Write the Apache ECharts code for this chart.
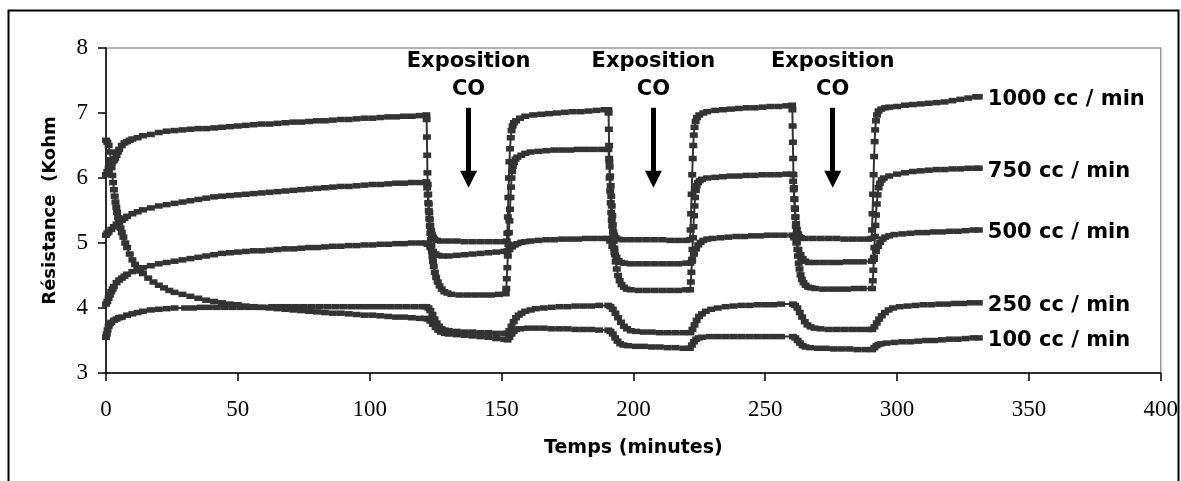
<!DOCTYPE html>
<html>
<head>
<meta charset="utf-8">
<script src="https://cdn.jsdelivr.net/npm/echarts@6/dist/echarts.min.js"></script>
<style>html,body{margin:0;padding:0;background:#fff;}#c{width:1181px;height:481px;}</style>
</head>
<body>
<div id="c"></div>
<script>
// ---- data: [time (minutes), resistance (kOhm)] ----
var seriesNames = ['1000 cc / min', '750 cc / min', '500 cc / min', '250 cc / min', '100 cc / min'];

var s1000 = [[0,6.05],[0.5,6.1],[1,6.15],[1.5,6.19],[2,6.22],[2.5,6.25],[3,6.27],[3.5,6.3],[4,6.35],[4.5,6.4],[5,6.44],[6,6.5],[7,6.54],[8,6.56],[9,6.58],[10,6.6],[12,6.62],[14,6.65],[17,6.67],[20,6.7],[23,6.72],[26,6.73],[29,6.74],[32,6.75],[35,6.76],[38,6.76],[41,6.77],[44,6.78],[47,6.79],[50,6.8],[53,6.81],[56,6.82],[59,6.83],[62,6.83],[65,6.84],[68,6.85],[71,6.86],[74,6.86],[77,6.87],[80,6.88],[83,6.88],[86,6.89],[89,6.9],[92,6.9],[95,6.91],[98,6.92],[101,6.92],[104,6.93],[107,6.94],[110,6.94],[113,6.95],[116,6.95],[119,6.96],[121.5,6.97],
[121.6,6.9],[121.7,6.63],[121.8,6.35],[121.9,6.08],[122,5.9],[122.2,5.75],[122.4,5.6],[122.6,5.47],[122.8,5.36],[123,5.27],[123.3,5.19],[123.6,5.13],[124,5.09],[124.5,5.06],[125.5,5.04],[127,5.03],[130,5.03],[133,5.03],[136,5.02],[139,5.02],[142,5.02],[145,5.02],[148,5.02],[151,5.02],[152,5.03],
[152.2,5.15],[152.4,5.4],[152.6,5.7],[152.8,6.0],[153,6.25],[153.2,6.45],[153.5,6.62],[153.8,6.73],[154.2,6.8],[154.7,6.85],[155.5,6.88],[157,6.92],[159,6.95],[162,6.97],[165,6.98],[168,6.99],[171,7.0],[174,7.01],[177,7.02],[180,7.02],[183,7.03],[186,7.04],[189,7.05],[190.5,7.05],
[190.6,7.0],[190.7,6.75],[190.8,6.5],[190.9,6.25],[191,6.0],[191.2,5.8],[191.4,5.62],[191.6,5.47],[191.8,5.35],[192,5.26],[192.3,5.18],[192.7,5.12],[193.2,5.08],[194,5.06],[196,5.05],[199,5.05],[202,5.05],[205,5.05],[208,5.05],[211,5.05],[214,5.04],[217,5.04],[220,5.04],[221.5,5.05],
[221.7,5.2],[221.9,5.45],[222.1,5.75],[222.3,6.05],[222.5,6.3],[222.7,6.5],[222.9,6.66],[223.2,6.78],[223.6,6.87],[224.1,6.93],[225,6.97],[226.5,7.0],[228,7.02],[231,7.04],[234,7.05],[237,7.06],[240,7.07],[243,7.08],[246,7.08],[249,7.09],[252,7.1],[255,7.1],[258,7.11],[260.2,7.12],
[260.3,7.05],[260.4,6.8],[260.5,6.55],[260.6,6.3],[260.7,6.05],[260.9,5.85],[261.1,5.67],[261.3,5.52],[261.5,5.4],[261.7,5.3],[262,5.21],[262.4,5.14],[262.9,5.1],[263.6,5.08],[265,5.07],[268,5.07],[271,5.07],[274,5.07],[277,5.07],[280,5.06],[283,5.06],[286,5.06],[289,5.06],[290.3,5.07],
[290.5,5.2],[290.7,5.45],[290.9,5.75],[291.1,6.05],[291.3,6.33],[291.5,6.56],[291.7,6.74],[292,6.88],[292.4,6.97],[293,7.03],[294,7.06],[295.5,7.08],[297,7.09],[300,7.1],[303,7.12],[306,7.13],[309,7.14],[312,7.15],[315,7.16],[318,7.17],[321,7.19],[324,7.21],[327,7.23],[330,7.25],[331,7.25]];

var s750 = [[0,5.12],[0.5,5.15],[1,5.17],[2,5.21],[3,5.25],[4,5.29],[5,5.32],[6,5.35],[7,5.38],[8,5.41],[10,5.45],[12,5.48],[14,5.51],[17,5.54],[20,5.57],[23,5.59],[26,5.61],[29,5.63],[32,5.65],[35,5.67],[38,5.69],[41,5.71],[44,5.72],[47,5.73],[50,5.74],[53,5.75],[56,5.76],[59,5.77],[62,5.78],[65,5.79],[68,5.8],[71,5.81],[74,5.82],[77,5.83],[80,5.84],[83,5.85],[86,5.86],[89,5.87],[92,5.87],[95,5.88],[98,5.89],[101,5.9],[104,5.9],[107,5.91],[110,5.92],[113,5.92],[116,5.93],[119,5.93],[121.5,5.94],
[121.8,5.85],[122,5.74],[122.2,5.62],[122.4,5.5],[122.6,5.38],[122.8,5.26],[123,5.15],[123.2,5.05],[123.4,4.96],[123.6,4.87],[123.8,4.79],[124,4.72],[124.3,4.64],[124.7,4.55],[125.2,4.47],[125.8,4.4],[126.5,4.34],[127.3,4.29],[128.3,4.25],[129.5,4.23],[131,4.21],[134,4.2],[137,4.2],[140,4.2],[143,4.2],[146,4.2],[149,4.21],[151.6,4.22],
[151.8,4.3],[152,4.45],[152.2,4.62],[152.4,4.8],[152.6,4.98],[152.8,5.16],[153,5.34],[153.2,5.52],[153.4,5.7],[153.6,5.86],[153.8,6.0],[154,6.1],[154.3,6.18],[154.7,6.24],[155.3,6.29],[156,6.32],[157.5,6.35],[159,6.38],[161,6.4],[164,6.41],[167,6.42],[170,6.43],[173,6.43],[176,6.43],[179,6.44],[182,6.44],[185,6.44],[188,6.44],[190.5,6.44],
[190.8,6.3],[191,6.17],[191.2,6.03],[191.4,5.88],[191.6,5.72],[191.8,5.57],[192,5.42],[192.2,5.28],[192.4,5.15],[192.6,5.03],[192.8,4.92],[193,4.82],[193.3,4.71],[193.7,4.6],[194.2,4.5],[194.8,4.42],[195.5,4.36],[196.4,4.32],[197.5,4.29],[199,4.28],[202,4.27],[205,4.27],[208,4.27],[211,4.27],[214,4.27],[217,4.27],[220,4.28],[221.5,4.28],
[221.8,4.4],[222,4.55],[222.2,4.72],[222.4,4.9],[222.6,5.08],[222.8,5.25],[223,5.42],[223.2,5.57],[223.4,5.7],[223.7,5.81],[224,5.88],[224.5,5.93],[225.2,5.96],[226,5.98],[228,6.0],[231,6.01],[234,6.02],[237,6.03],[240,6.03],[243,6.04],[246,6.04],[249,6.05],[252,6.05],[255,6.05],[258,6.06],[260.3,6.06],
[260.6,5.95],[260.8,5.82],[261,5.68],[261.2,5.54],[261.4,5.4],[261.6,5.26],[261.8,5.13],[262,5.01],[262.2,4.9],[262.4,4.8],[262.7,4.69],[263,4.6],[263.4,4.51],[263.9,4.44],[264.5,4.39],[265.3,4.35],[266.3,4.32],[267.5,4.31],[269,4.3],[272,4.29],[275,4.29],[278,4.29],[281,4.29],[284,4.3],[287,4.3],[290.5,4.3],
[290.8,4.42],[291,4.58],[291.2,4.75],[291.4,4.93],[291.6,5.1],[291.8,5.27],[292,5.43],[292.3,5.6],[292.6,5.74],[293,5.85],[293.5,5.92],[294.2,5.97],[295,6.0],[297,6.03],[300,6.06],[303,6.08],[306,6.1],[309,6.11],[312,6.12],[315,6.13],[318,6.13],[321,6.14],[324,6.14],[327,6.15],[330,6.15],[331,6.15]];

var s500 = [[0,4.06],[0.5,4.1],[1,4.15],[1.5,4.2],[2,4.25],[2.5,4.29],[3,4.33],[4,4.39],[5,4.43],[6,4.46],[7,4.49],[8,4.52],[10,4.56],[12,4.59],[14,4.62],[17,4.65],[20,4.68],[23,4.7],[26,4.72],[29,4.74],[32,4.76],[35,4.78],[38,4.8],[41,4.82],[44,4.84],[47,4.85],[50,4.86],[53,4.87],[56,4.88],[59,4.88],[62,4.89],[65,4.9],[68,4.91],[71,4.91],[74,4.92],[77,4.93],[80,4.93],[83,4.94],[86,4.95],[89,4.95],[92,4.96],[95,4.96],[98,4.97],[101,4.97],[104,4.98],[107,4.98],[110,4.99],[113,4.99],[116,5.0],[119,5.0],[121.5,5.0],
[122,4.98],[123,4.93],[124,4.87],[125,4.83],[126,4.81],[127.5,4.8],[130,4.8],[133,4.81],[136,4.82],[139,4.83],[142,4.84],[145,4.85],[148,4.86],[151,4.87],[152.3,4.88],
[153,4.9],[154,4.94],[155,4.97],[156,4.99],[157.5,5.01],[159,5.02],[161,5.03],[164,5.04],[167,5.05],[170,5.05],[173,5.06],[176,5.06],[179,5.06],[182,5.07],[185,5.07],[188,5.07],[190.5,5.07],
[191.2,5.03],[192,4.95],[192.8,4.86],[193.6,4.78],[194.4,4.73],[195.3,4.7],[196.5,4.69],[199,4.68],[202,4.68],[205,4.68],[208,4.68],[211,4.68],[214,4.68],[217,4.68],[220,4.69],[221.6,4.69],
[222.3,4.75],[223,4.83],[223.8,4.91],[224.6,4.97],[225.5,5.01],[226.5,5.04],[228,5.06],[230,5.07],[233,5.08],[236,5.09],[239,5.1],[242,5.1],[245,5.11],[248,5.11],[251,5.12],[254,5.12],[257,5.12],[260.3,5.12],
[261,5.08],[261.8,5.0],[262.6,4.9],[263.4,4.82],[264.2,4.76],[265.2,4.72],[266.5,4.7],[269,4.7],[272,4.7],[275,4.7],[278,4.7],[281,4.71],[284,4.71],[287,4.71],[290.5,4.72],
[291.2,4.78],[292,4.87],[292.8,4.95],[293.6,5.01],[294.5,5.06],[295.5,5.09],[297,5.11],[299,5.13],[302,5.14],[305,5.15],[308,5.16],[311,5.16],[314,5.17],[317,5.17],[320,5.18],[323,5.18],[326,5.19],[329,5.2],[331,5.2]];

var s250 = [[0,3.55],[0.3,3.6],[0.6,3.66],[1,3.72],[1.5,3.76],[2,3.78],[3,3.81],[4,3.83],[5,3.85],[6,3.86],[8,3.89],[10,3.91],[12,3.93],[14,3.95],[17,3.97],[20,3.98],[23,3.99],[26,4.0],[30,4.0],[33,4.0],[36,4.01],[39,4.01],[42,4.01],[45,4.01],[48,4.01],[51,4.01],[54,4.01],[57,4.01],[60,4.01],[63,4.02],[66,4.02],[69,4.02],[72,4.02],[75,4.02],[78,4.02],[81,4.02],[84,4.02],[87,4.02],[90,4.02],[93,4.02],[96,4.02],[99,4.02],[102,4.02],[105,4.02],[108,4.02],[111,4.02],[114,4.02],[117,4.02],[120,4.02],[121.5,4.02],
[122.3,4.0],[123,3.96],[123.8,3.9],[124.6,3.83],[125.4,3.77],[126.3,3.72],[127.3,3.68],[128.5,3.66],[130,3.65],[133,3.64],[136,3.63],[139,3.63],[142,3.62],[145,3.62],[148,3.61],[151,3.61],[152.3,3.61],
[153,3.65],[153.8,3.72],[154.6,3.79],[155.5,3.85],[156.5,3.89],[157.6,3.92],[159,3.95],[161,3.97],[163,3.99],[166,4.0],[169,4.01],[172,4.02],[175,4.02],[178,4.03],[181,4.03],[184,4.03],[187,4.04],[190.5,4.04],
[191.3,4.02],[192.2,3.98],[193.2,3.92],[194.2,3.85],[195.3,3.78],[196.4,3.72],[197.6,3.68],[199,3.65],[201,3.64],[204,3.63],[207,3.63],[210,3.62],[213,3.62],[216,3.62],[219,3.62],[221.6,3.62],
[222.4,3.67],[223.2,3.74],[224,3.81],[224.9,3.87],[226,3.91],[227.5,3.95],[229.5,3.98],[232,4.0],[235,4.02],[238,4.03],[241,4.04],[244,4.04],[247,4.05],[250,4.05],[253,4.05],[256,4.06],[260.5,4.06],
[261.3,4.04],[262.2,4.0],[263.1,3.93],[264,3.86],[265,3.79],[266,3.74],[267.2,3.71],[268.7,3.69],[271,3.68],[274,3.67],[277,3.67],[280,3.67],[283,3.67],[286,3.67],[289,3.67],[290.6,3.67],
[291.4,3.71],[292.3,3.77],[293.2,3.83],[294.2,3.88],[295.4,3.93],[296.8,3.97],[298.5,4.0],[301,4.02],[304,4.03],[307,4.04],[310,4.05],[313,4.05],[316,4.06],[319,4.06],[322,4.07],[325,4.07],[328,4.08],[331,4.08]];

var s100 = [[0,6.58],[0.5,6.55],[1,6.5],[1.5,6.4],[1.8,6.28],[2.1,6.16],[2.4,6.04],[2.7,5.93],[3,5.82],[3.3,5.72],[3.6,5.63],[3.9,5.55],[4.2,5.47],[4.6,5.39],[5,5.31],[5.5,5.23],[6,5.16],[6.6,5.09],[7.3,5.0],[8,4.93],[9,4.83],[10,4.74],[11,4.67],[12,4.61],[13,4.57],[14,4.53],[16,4.46],[18,4.4],[20,4.35],[22,4.31],[24,4.27],[26,4.24],[29,4.21],[32,4.18],[35,4.15],[38,4.12],[41,4.1],[44,4.08],[47,4.06],[50,4.05],[53,4.03],[56,4.02],[59,4.01],[62,4.0],[65,3.99],[68,3.98],[71,3.97],[74,3.96],[77,3.95],[80,3.94],[83,3.93],[86,3.92],[89,3.92],[92,3.91],[95,3.9],[98,3.89],[101,3.89],[104,3.88],[107,3.87],[110,3.86],[113,3.86],[116,3.85],[119,3.84],[121,3.84],
[122,3.83],[123,3.8],[124,3.75],[125,3.7],[126,3.66],[127,3.63],[128.5,3.61],[130,3.6],[133,3.59],[136,3.58],[139,3.57],[142,3.56],[145,3.55],[148,3.53],[151,3.52],[152.3,3.51],
[153,3.55],[153.8,3.6],[154.6,3.64],[155.5,3.67],[157,3.68],[160,3.69],[163,3.69],[166,3.69],[169,3.68],[172,3.68],[175,3.68],[178,3.67],[181,3.67],[184,3.67],[187,3.66],[190.5,3.66],
[191.3,3.64],[192.2,3.6],[193.1,3.54],[194,3.49],[195,3.45],[196.2,3.43],[198,3.42],[201,3.41],[204,3.41],[207,3.4],[210,3.4],[213,3.39],[216,3.39],[219,3.38],[221.4,3.38],
[222.2,3.43],[223,3.48],[223.8,3.52],[224.8,3.54],[226,3.55],[229,3.56],[232,3.56],[235,3.56],[238,3.56],[241,3.56],[244,3.56],[247,3.56],[250,3.56],[253,3.56],[256,3.56],[260.5,3.56],
[261.4,3.54],[262.3,3.5],[263.2,3.46],[264.2,3.42],[265.3,3.4],[267,3.39],[270,3.38],[273,3.38],[276,3.37],[279,3.37],[282,3.37],[285,3.36],[288,3.36],[290.6,3.36],
[291.4,3.39],[292.2,3.42],[293,3.44],[294,3.45],[296,3.46],[299,3.47],[302,3.48],[305,3.48],[308,3.49],[311,3.5],[314,3.5],[317,3.51],[320,3.52],[323,3.52],[326,3.53],[329,3.54],[331,3.54]];

// annotations: CO exposure markers (time in minutes)
var exposureTimes = [137.5, 207.6, 275.6];
var exposureText = 'Exposition\nCO';
var exposureTextY = 7.57;
var arrowTopY = 7.08;
var arrowTipY = 5.98;

// axis ticks
var xTicks = {min: 0, max: 400, interval: 50};
var yTicks = {min: 3, max: 8, interval: 1};

var allSeries = [s1000, s750, s500, s250, s100];
var INK = '#333333';
var boldFont = 'DejaVu Sans';

var chart = echarts.init(document.getElementById('c'), null, {renderer: 'canvas'});

var series = allSeries.map(function (d, i) {
  return {
    name: seriesNames[i],
    type: 'line',
    data: d,
    showSymbol: true,
    showAllSymbol: true,
    symbol: 'rect',
    symbolSize: [8, 5.5],
    itemStyle: {color: INK},
    lineStyle: {color: INK, width: 2},
    silent: true,
    animation: false,
    emphasis: {disabled: true},
    endLabel: {
      show: true,
      formatter: seriesNames[i],
      color: '#000',
      fontFamily: boldFont,
      fontWeight: 'bold',
      fontSize: 21,
      distance: 9,
      offset: [0, 3]
    }
  };
});

series.push({
  type: 'line',
  data: [],
  silent: true,
  animation: false,
  markPoint: {
    symbol: 'circle',
    symbolSize: 1,
    itemStyle: {color: 'rgba(0,0,0,0)'},
    label: {
      show: true,
      position: 'inside',
      formatter: exposureText,
      color: '#000',
      fontFamily: boldFont,
      fontWeight: 'bold',
      fontSize: 21,
      lineHeight: 28,
      align: 'center'
    },
    data: exposureTimes.map(function (t) { return {coord: [t, exposureTextY]}; })
  },
  markLine: {
    silent: true,
    symbol: ['none', 'triangle'],
    symbolSize: 17,
    label: {show: false},
    lineStyle: {color: '#000', width: 5, type: 'solid'},
    itemStyle: {color: '#000'},
    data: exposureTimes.map(function (t) {
      return [{coord: [t, arrowTopY]}, {coord: [t, arrowTipY]}];
    })
  }
});

chart.setOption({
  animation: false,
  backgroundColor: '#fff',
  grid: {left: 106, right: 19, top: 48, bottom: 108, show: true, borderColor: '#999', borderWidth: 1.5, backgroundColor: 'rgba(0,0,0,0)'},
  xAxis: {
    type: 'value', min: xTicks.min, max: xTicks.max, interval: xTicks.interval,
    name: 'Temps (minutes)', nameLocation: 'middle', nameGap: 66,
    nameTextStyle: {color: '#000', fontFamily: boldFont, fontWeight: 'bold', fontSize: 19},
    axisLine: {lineStyle: {color: '#000', width: 1.5}},
    axisTick: {show: true, inside: false, length: 8, lineStyle: {color: '#000', width: 1.5}},
    axisLabel: {color: '#000', fontFamily: 'Liberation Serif', fontSize: 23, margin: 25},
    splitLine: {show: false}
  },
  yAxis: {
    type: 'value', min: yTicks.min, max: yTicks.max, interval: yTicks.interval,
    name: 'Résistance  (Kohm', nameLocation: 'middle', nameGap: 47, nameRotate: 90,
    nameTextStyle: {color: '#000', fontFamily: boldFont, fontWeight: 'bold', fontSize: 18},
    axisLine: {show: true, lineStyle: {color: '#000', width: 1.5}},
    axisTick: {show: true, inside: false, length: 8, lineStyle: {color: '#000', width: 1.5}},
    axisLabel: {color: '#000', fontFamily: 'Liberation Serif', fontSize: 23, margin: 18},
    splitLine: {show: false}
  },
  graphic: [{
    type: 'rect',
    shape: {x: 8.5, y: 10.5, width: 1170, height: 490},
    style: {fill: 'none', stroke: '#000', lineWidth: 2},
    silent: true,
    z: 100
  }],
  series: series
});
</script>
</body>
</html>
